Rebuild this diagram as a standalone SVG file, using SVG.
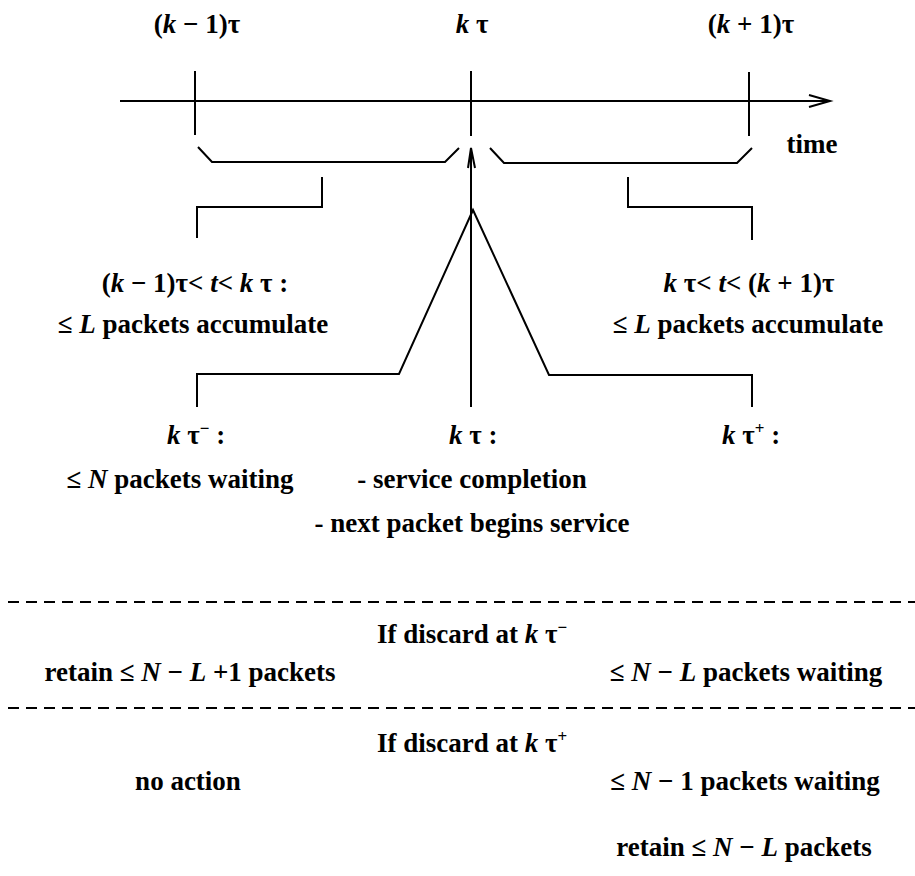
<svg xmlns="http://www.w3.org/2000/svg" width="915" height="876" viewBox="0 0 915 876">
<style>
  text { font-family: "Liberation Serif", "DejaVu Serif", serif; font-weight: bold; font-size: 27px; fill: #000; }
  .m { text-anchor: middle; }
  .i { font-style: italic; }
  .sup { font-size: 17px; }
  .ln { stroke: #000; stroke-width: 2; fill: none; stroke-linecap: butt; stroke-linejoin: miter; }
  .dash { stroke: #000; stroke-width: 2; fill: none; stroke-dasharray: 11 7; }
</style>
<rect width="915" height="876" fill="#fff"/>
<g id="connectors">
  <!-- time axis -->
  <line class="ln" x1="120" y1="101" x2="829" y2="101"/>
  <polyline class="ln" points="809,95 830,101 809,107"/>
  <!-- ticks -->
  <line class="ln" x1="195" y1="71" x2="195" y2="135"/>
  <line class="ln" x1="471" y1="71" x2="471" y2="136"/>
  <line class="ln" x1="749" y1="72" x2="749" y2="136"/>
  <!-- lower brackets on axis -->
  <polyline class="ln" points="198,147 212,162 445,162 459,148"/>
  <polyline class="ln" points="490,148 504,163 737,163 752,148"/>
  <!-- upward arrow at k tau -->
  <line class="ln" x1="471" y1="149" x2="471" y2="407"/>
  <polyline class="ln" points="468,168 471,148 475,168"/>
  <!-- triangle -->
  <polyline class="ln" points="197,407 197,374 399,374 473,210 549,375 752,375 752,407"/>
  <!-- upper step brackets -->
  <polyline class="ln" points="322,177 322,207 197,207 197,238"/>
  <polyline class="ln" points="628,177 628,207 752,207 752,240"/>
  <!-- dashed separators -->
  <line class="dash" x1="8" y1="602" x2="915" y2="602"/>
  <line class="dash" x1="8" y1="708" x2="915" y2="708"/>
</g>
<g id="label-k-1">
  <text class="m" x="197" y="33">(<tspan class="i">k</tspan> − 1)τ</text>
</g>
<g id="label-k">
  <text class="m" x="472" y="33"><tspan class="i">k</tspan> τ</text>
</g>
<g id="label-k+1">
  <text class="m" x="751" y="33">(<tspan class="i">k</tspan> + 1)τ</text>
</g>
<g id="label-time">
  <text class="m" x="812" y="153">time</text>
</g>
<g id="interval-left">
  <text class="m" x="195" y="292">(<tspan class="i">k</tspan> − 1)τ&lt; <tspan class="i">t</tspan>&lt; <tspan class="i">k</tspan> τ :</text>
  <text class="m" x="193" y="333">≤ <tspan class="i">L</tspan> packets accumulate</text>
</g>
<g id="interval-right">
  <text class="m" x="749" y="292"><tspan class="i">k</tspan> τ&lt; <tspan class="i">t</tspan>&lt; (<tspan class="i">k</tspan> + 1)τ</text>
  <text class="m" x="748" y="333">≤ <tspan class="i">L</tspan> packets accumulate</text>
</g>
<g id="state-minus">
  <text x="167" y="444"><tspan class="i">k</tspan> τ<tspan class="sup" dy="-10">−</tspan><tspan dy="10">  :</tspan></text>
  <text class="m" x="180" y="488">≤ <tspan class="i">N</tspan> packets waiting</text>
</g>
<g id="state-k">
  <text x="449" y="444"><tspan class="i">k</tspan> τ :</text>
  <text class="m" x="472" y="488">- service completion</text>
  <text class="m" x="472" y="532">- next packet begins service</text>
</g>
<g id="state-plus">
  <text x="722" y="444"><tspan class="i">k</tspan> τ<tspan class="sup" dy="-10">+</tspan><tspan dy="10">  :</tspan></text>
</g>
<g id="discard-minus">
  <text class="m" x="472" y="643">If discard at <tspan class="i">k</tspan> τ<tspan class="sup" dy="-10">−</tspan></text>
  <text class="m" x="190" y="681">retain ≤ <tspan class="i">N</tspan> − <tspan class="i">L</tspan> +1 packets</text>
  <text class="m" x="746" y="681">≤ <tspan class="i">N</tspan> − <tspan class="i">L</tspan> packets waiting</text>
</g>
<g id="discard-plus">
  <text class="m" x="472" y="752">If discard at <tspan class="i">k</tspan> τ<tspan class="sup" dy="-10">+</tspan></text>
  <text class="m" x="188" y="790">no action</text>
  <text class="m" x="745" y="790">≤ <tspan class="i">N</tspan> − 1 packets waiting</text>
  <text class="m" x="744" y="856">retain ≤ <tspan class="i">N</tspan> − <tspan class="i">L</tspan> packets</text>
</g>
</svg>
